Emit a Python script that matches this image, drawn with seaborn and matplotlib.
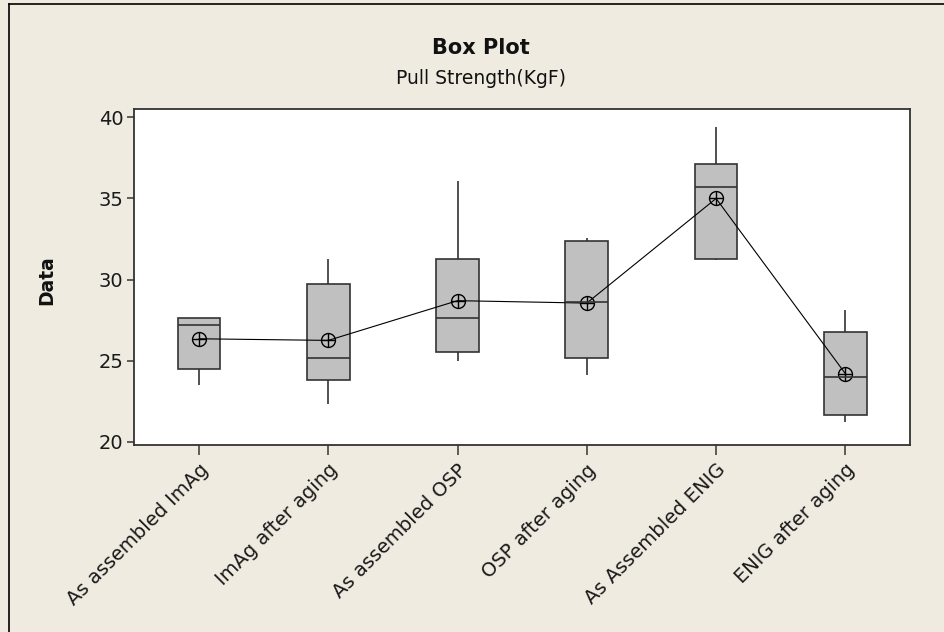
import pandas as pd
import matplotlib
matplotlib.use("Agg")
import matplotlib.pyplot as plt
from matplotlib.lines import Line2D
import seaborn as sns

# Data
categories = ["As assembled ImAg", "ImAg after aging", "As assembled OSP",
              "OSP after aging", "As Assembled ENIG", "ENIG after aging"]
mins = [23.5, 22.3, 24.95, 24.1, 31.2, 21.2]
q1s = [24.5, 23.8, 25.55, 25.15, 31.3, 21.65]
medians = [27.2, 25.15, 27.65, 28.6, 35.7, 24.0]
q3s = [27.65, 29.75, 31.3, 32.35, 37.1, 26.75]
maxs = [27.65, 31.25, 36.1, 32.55, 39.4, 28.1]
means = [26.35, 26.25, 28.7, 28.55, 35.0, 24.2]

# long table: five-number summary per group
rows = []
for i, c in enumerate(categories):
    for v in (mins[i], q1s[i], medians[i], q3s[i], maxs[i]):
        rows.append({"group": c, "value": v})
df = pd.DataFrame(rows)

bg = "#F0EBE1"
plt.rcParams["font.family"] = ["DejaVu Sans"]

fig = plt.figure(figsize=(9.45, 6.32), dpi=100, facecolor=bg)
ax = fig.add_axes([134.3 / 945, 1 - 445 / 632, (910 - 134.3) / 945, (445 - 109.3) / 632])
ax.set_facecolor("white")

sns.boxplot(data=df, x="group", y="value", order=categories, whis=(0, 100),
            width=0.33, color="#C0C0C0", saturation=1, linecolor="#333333",
            linewidth=1.2, showcaps=False, fliersize=0, ax=ax)

# mean symbols connected by a line
sns.pointplot(x=categories, y=means, order=categories, color="black",
              markers="o", markersize=10, markerfacecolor="none",
              markeredgewidth=1.0, linewidth=0.8, errorbar=None, ax=ax)
sns.pointplot(x=categories, y=means, order=categories, color="black",
              markers="+", markersize=10, markeredgewidth=1.0,
              linestyles="none", errorbar=None, ax=ax)

ax.set_xlim(-0.5, 5.5)
ax.set_ylim(19.8, 40.5)
ax.set_yticks([20, 25, 30, 35, 40])
ax.set_xticks(range(len(categories)))
ax.set_xticklabels(categories, rotation=45, ha="right", rotation_mode="anchor",
                   fontsize=14, color="#1a1a1a")
ax.tick_params(axis="y", labelsize=14, labelcolor="#1a1a1a", length=5,
               width=1.2, color="#444444", pad=3)
ax.tick_params(axis="x", length=7, width=1.2, color="#444444", pad=4)
ax.set_xlabel("")
ax.set_ylabel("")
for s in ax.spines.values():
    s.set_color("#333333")
    s.set_linewidth(1.3)

fig.text(481 / 945, 1 - 48 / 632, "Box Plot", ha="center", va="center",
         fontsize=15, fontweight="bold", color="#111111")
fig.text(481 / 945, 1 - 78 / 632, "Pull Strength(KgF)", ha="center", va="center",
         fontsize=13.5, color="#111111")
fig.text(47 / 945, 1 - 280 / 632, "Data", ha="center", va="center",
         rotation=90, fontsize=13.5, fontweight="bold", color="#111111")

# window frame on top and left
fig.add_artist(Line2D([9.3 / 945, 1], [1 - 4.3 / 632, 1 - 4.3 / 632],
                      transform=fig.transFigure, color="black", linewidth=1.2))
fig.add_artist(Line2D([9.3 / 945, 9.3 / 945], [0, 1 - 4.3 / 632],
                      transform=fig.transFigure, color="black", linewidth=1.2))

fig.savefig("out.png", dpi=100, facecolor=bg)
